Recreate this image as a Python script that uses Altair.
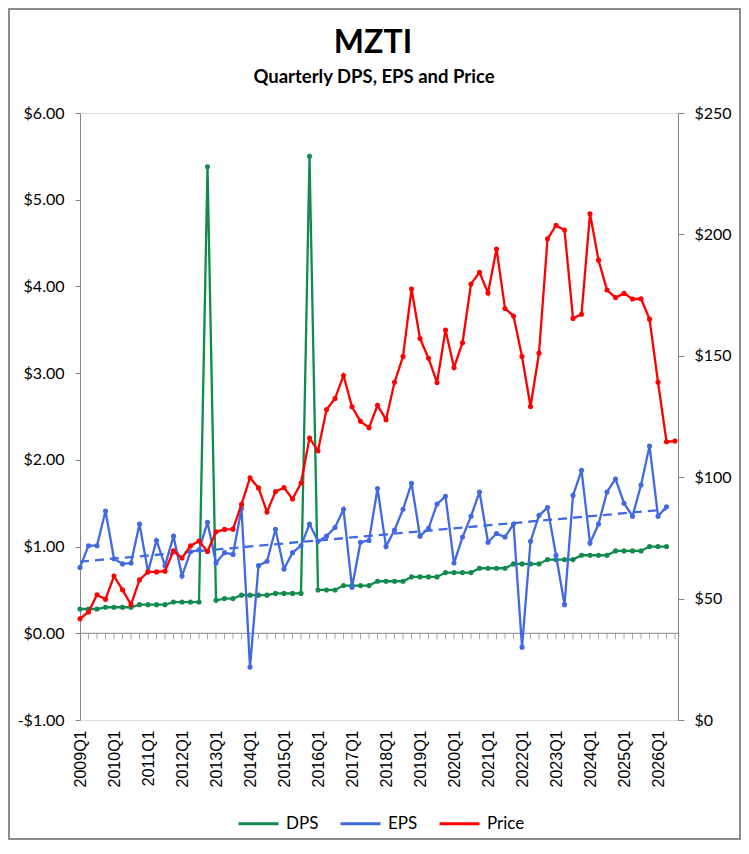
import altair as alt
import pandas as pd

# ---------------- data ----------------
title_text = "MZTI"
subtitle_text = "Quarterly DPS, EPS and Price"

years = list(range(2009, 2027))
quarter_names = ["Q1", "Q2", "Q3", "Q4"]
quarters = [f"{y}{q}" for y in years for q in quarter_names][:71]  # 2009Q1 .. 2026Q3

dps = [0.28, 0.28, 0.28, 0.30, 0.30, 0.30, 0.30, 0.33, 0.33, 0.33,
       0.33, 0.36, 0.36, 0.36, 0.36, 5.38, 0.38, 0.40, 0.40, 0.44,
       0.44, 0.44, 0.44, 0.46, 0.46, 0.46, 0.46, 5.50, 0.50, 0.50,
       0.50, 0.55, 0.55, 0.55, 0.55, 0.60, 0.60, 0.60, 0.60, 0.65,
       0.65, 0.65, 0.65, 0.70, 0.70, 0.70, 0.70, 0.75, 0.75, 0.75,
       0.75, 0.80, 0.80, 0.80, 0.80, 0.85, 0.85, 0.85, 0.85, 0.90,
       0.90, 0.90, 0.90, 0.95, 0.95, 0.95, 0.95, 1.00, 1.00, 1.00]

eps = [0.76, 1.01, 1.01, 1.41, 0.86, 0.80, 0.81, 1.26, 0.71, 1.07,
       0.78, 1.12, 0.66, 0.94, 0.96, 1.28, 0.81, 0.93, 0.91, 1.44,
       -0.39, 0.78, 0.83, 1.20, 0.74, 0.93, 1.01, 1.26, 1.06, 1.12,
       1.22, 1.43, 0.53, 1.05, 1.07, 1.67, 1.00, 1.19, 1.43, 1.73,
       1.12, 1.21, 1.49, 1.58, 0.81, 1.11, 1.35, 1.63, 1.05, 1.15,
       1.11, 1.26, -0.16, 1.06, 1.36, 1.45, 0.90, 0.33, 1.59, 1.88,
       1.04, 1.26, 1.63, 1.78, 1.50, 1.35, 1.71, 2.16, 1.35, 1.46]

price = [41.7, 44.5, 51.6, 49.7, 59.3, 53.6, 47.5, 57.7, 61.0, 61.0,
         61.3, 69.7, 66.7, 71.7, 73.7, 69.4, 77.5, 78.5, 78.6, 88.8,
         99.8, 95.6, 85.7, 94.1, 95.7, 91.0, 97.6, 116.1, 110.9, 127.9,
         132.4, 141.9, 129.0, 123.0, 120.4, 129.6, 123.7, 139.1, 149.7, 177.5,
         157.1, 149.0, 139.0, 160.6, 145.2, 155.4, 179.6, 184.4, 175.9, 194.0,
         169.5, 166.4, 149.7, 129.1, 151.1, 198.2, 203.7, 201.8, 165.4, 167.1,
         208.5, 189.4, 177.1, 174.0, 175.7, 173.4, 173.5, 165.1, 139.1, 114.6,
         114.9]

series_names = ["DPS", "EPS", "Price"]
series_colors = ["#128C4E", "#4169E1", "#FF0000"]

rows = []
for name, vals in zip(series_names, [dps, eps, price]):
    for i, v in enumerate(vals):
        rows.append({"idx": i, "quarter": quarters[i], "series": name, "value": v})
df = pd.DataFrame(rows)
tick_df = pd.DataFrame({"idx": list(range(1, len(quarters)))})
one_df = pd.DataFrame({"k": [0]})

# ---------------- encodings ----------------
W, H = 598, 607
AXIS_GRAY = "#868686"

label_expr = "[" + ",".join(f"'{q}'" for q in quarters) + "][datum.value]"
x_scale = alt.Scale(domain=[0, 70.35], nice=False, zero=False)
x_axis = alt.Axis(values=list(range(0, len(quarters), 4)), labelExpr=label_expr,
                  labelAngle=270, domain=False, ticks=False, tickSize=0, grid=False,
                  labelPadding=10, labelFont="Liberation Sans", labelFontSize=16,
                  labelColor="black", title=None, labelOverlap=False)
x_enc = alt.X("idx:Q", scale=x_scale, axis=x_axis)

yl_scale = alt.Scale(domain=[-1, 6], nice=False, zero=False)
yl_axis = alt.Axis(values=[-1, 0, 1, 2, 3, 4, 5, 6],
                   labelExpr="(datum.value < 0 ? '-$' : '$') + format(abs(datum.value), '.2f')",
                   grid=False, domainColor=AXIS_GRAY, tickColor=AXIS_GRAY, tickSize=5,
                   labelPadding=11, labelFont="Lato", labelFontSize=16,
                   labelColor="black", title=None)
yl_enc = alt.Y("value:Q", scale=yl_scale, axis=yl_axis)

yr_scale = alt.Scale(domain=[0, 250], nice=False, zero=False)
yr_axis = alt.Axis(orient="right", values=[0, 50, 100, 150, 200, 250],
                   labelExpr="'$' + datum.value", grid=False,
                   domainColor=AXIS_GRAY, tickColor=AXIS_GRAY, tickSize=6,
                   labelPadding=10, labelFont="Lato", labelFontSize=16,
                   labelColor="black", title=None)
yr_enc = alt.Y("value:Q", scale=yr_scale, axis=yr_axis)

legend = alt.Legend(orient="none", legendX=157, legendY=689, direction="horizontal",
                    title=None, symbolType="stroke", symbolSize=1600,
                    symbolStrokeWidth=3, labelFont="Lato", labelFontSize=17,
                    labelColor="black", labelOffset=6, columnPadding=15)
color_enc = alt.Color("series:N", scale=alt.Scale(domain=series_names, range=series_colors),
                      legend=legend)

point_def = alt.OverlayMarkDef(filled=True, size=26, shape="circle")

# ---------------- layers ----------------
base = alt.Chart(df)

dps_line = base.transform_filter(alt.datum.series == "DPS").mark_line(
    strokeWidth=2.3, point=point_def).encode(x=x_enc, y=yl_enc, color=color_enc)

eps_line = base.transform_filter(alt.datum.series == "EPS").mark_line(
    strokeWidth=2.3, point=point_def).encode(x=x_enc, y=yl_enc, color=color_enc)

trend = base.transform_filter(alt.datum.series == "EPS").transform_regression(
    "idx", "value", method="linear", extent=[0, len(eps) - 1]
).mark_line(strokeWidth=2.3, strokeDash=[9, 6], color="#4169E1").encode(x=x_enc, y=yl_enc)

zero_line = alt.Chart(one_df).mark_rule(color=AXIS_GRAY, strokeWidth=1).encode(
    x=alt.value(0), x2=alt.value(W),
    y=alt.YDatum(0, type="quantitative", scale=yl_scale, axis=yl_axis))

zero_ticks = alt.Chart(tick_df).mark_tick(
    orient="vertical", color=AXIS_GRAY, size=6, thickness=1, yOffset=3).encode(
    x=x_enc, y=alt.YDatum(0, type="quantitative", scale=yl_scale, axis=yl_axis))

border = alt.Chart(one_df).mark_rect(
    fillOpacity=0, stroke="#8C8C8C", strokeWidth=2).encode(
    x=alt.value(-71), x2=alt.value(W + 62), y=alt.value(-104), y2=alt.value(H + 119))

title_mark = alt.Chart(one_df).mark_text(
    text=title_text, font="Lato", fontSize=32, fontWeight="bold", color="black",
    align="center", baseline="alphabetic").encode(x=alt.value(293), y=alt.value(-60))

subtitle_mark = alt.Chart(one_df).mark_text(
    text=subtitle_text, font="Lato", fontSize=18.5, fontWeight="bold", color="black",
    align="center", baseline="alphabetic").encode(x=alt.value(294), y=alt.value(-30))

left = alt.layer(border, title_mark, subtitle_mark, zero_line, zero_ticks,
                 dps_line, eps_line, trend)

price_line = base.transform_filter(alt.datum.series == "Price").mark_line(
    strokeWidth=2.3, point=point_def).encode(x=x_enc, y=yr_enc, color=color_enc)

chart = alt.layer(left, price_line).resolve_scale(y="independent").properties(
    width=W, height=H,
    autosize=alt.AutoSizeParams(type="none"),
    padding={"left": 72, "top": 105, "right": 63, "bottom": 120},
).configure_view(stroke="transparent").configure(background="white")

chart.save("out.html", embed_options={"renderer": "svg", "actions": False})
